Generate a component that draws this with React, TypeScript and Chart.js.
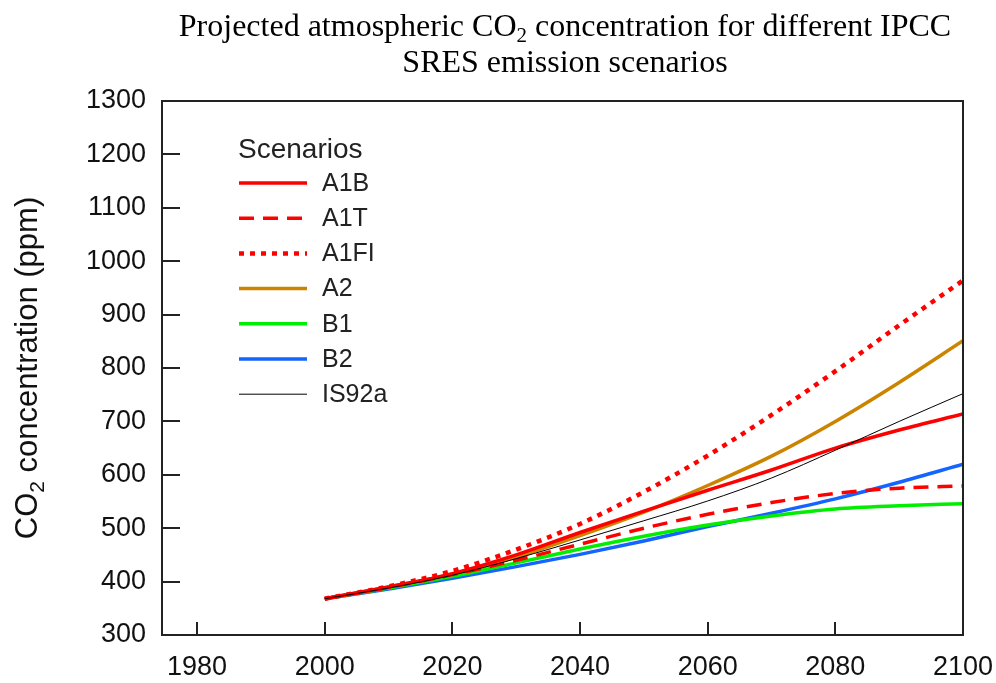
import React, { useEffect, useRef } from "react";
import { Chart, registerables } from "chart.js";

Chart.register(...registerables);

// ---- Data ----
const years = [2000, 2010, 2020, 2030, 2040, 2050, 2060, 2070, 2080, 2090, 2100];
const a1b = [368, 390, 415, 450, 492, 532, 571, 609, 650, 684, 714];
const a1t = [368, 389, 413, 440, 470, 500, 526, 548, 565, 575, 579];
const a1fi = [368, 391, 420, 460, 508, 568, 636, 712, 794, 880, 964];
const a2 = [368, 390, 414, 446, 486, 530, 580, 635, 700, 773, 851];
const b1 = [368, 388, 410, 435, 461, 485, 506, 523, 536, 542, 546];
const b2 = [368, 386, 406, 428, 451, 476, 503, 528, 555, 586, 620];
const is92a = [368, 388, 412, 443, 478, 514, 551, 594, 646, 700, 752];

const seriesNames = ["A1B", "A1T", "A1FI", "A2", "B1", "B2", "IS92a"];
const seriesValues = [a1b, a1t, a1fi, a2, b1, b2, is92a];
const seriesColors = ["#ff0000", "#ff0000", "#ff0000", "#cc8400", "#00ee00", "#1464ff", "#000000"];
const seriesWidths = [3.5, 3.5, 4.5, 3.5, 3.5, 3.5, 1];
const seriesDashes: number[][] = [[], [15, 9], [5, 6], [], [], [], []];

const xTicks = [1980, 2000, 2020, 2040, 2060, 2080, 2100];
const yTicks = [300, 400, 500, 600, 700, 800, 900, 1000, 1100, 1200, 1300];

const titleLine1a = "Projected atmospheric CO";
const titleLine1b = " concentration for different IPCC";
const titleLine2 = "SRES emission scenarios";
const yTitleA = "CO";
const yTitleB = " concentration (ppm)";
const legendTitle = "Scenarios";

const SANS = '"Liberation Sans", Arial, sans-serif';
const SERIF = '"Liberation Serif", "Times New Roman", serif';

const decorPlugin = {
  id: "decor",
  afterDraw(chart: any) {
    const ctx: CanvasRenderingContext2D = chart.ctx;
    const { left, top, right, bottom } = chart.chartArea;
    const xs = chart.scales.x;
    const ys = chart.scales.y;
    ctx.save();

    // frame
    ctx.strokeStyle = "#222";
    ctx.lineWidth = 2;
    ctx.setLineDash([]);
    ctx.strokeRect(left, top, right - left, bottom - top);

    // inward ticks
    ctx.lineWidth = 2;
    yTicks.forEach((v) => {
      if (v === yTicks[0] || v === yTicks[yTicks.length - 1]) return;
      const py = Math.round(ys.getPixelForValue(v));
      ctx.beginPath();
      ctx.moveTo(left, py);
      ctx.lineTo(left + 18, py);
      ctx.stroke();
    });
    xTicks.forEach((v) => {
      const px = Math.round(xs.getPixelForValue(v));
      if (px >= right - 1) return;
      ctx.beginPath();
      ctx.moveTo(px, bottom);
      ctx.lineTo(px, bottom - 13);
      ctx.stroke();
    });

    // title
    ctx.fillStyle = "#000";
    ctx.textBaseline = "alphabetic";
    ctx.textAlign = "left";
    const cx = 565;
    ctx.font = `32px ${SERIF}`;
    const w1 = ctx.measureText(titleLine1a).width;
    const w2 = ctx.measureText(titleLine1b).width;
    ctx.font = `21px ${SERIF}`;
    const ws = ctx.measureText("2").width;
    const sx = cx - (w1 + ws + w2) / 2;
    ctx.font = `32px ${SERIF}`;
    ctx.fillText(titleLine1a, sx, 36);
    ctx.font = `21px ${SERIF}`;
    ctx.fillText("2", sx + w1, 42);
    ctx.font = `32px ${SERIF}`;
    ctx.fillText(titleLine1b, sx + w1 + ws, 36);
    ctx.textAlign = "center";
    ctx.fillText(titleLine2, cx, 72);

    // y axis title
    ctx.save();
    ctx.translate(37, (top + bottom) / 2);
    ctx.rotate(-Math.PI / 2);
    ctx.fillStyle = "#111";
    ctx.textAlign = "left";
    ctx.font = `31px ${SANS}`;
    const ya = ctx.measureText(yTitleA).width;
    const yb = ctx.measureText(yTitleB).width;
    ctx.font = `21px ${SANS}`;
    const ysub = ctx.measureText("2").width;
    const ystart = -(ya + ysub + yb) / 2;
    ctx.font = `31px ${SANS}`;
    ctx.fillText(yTitleA, ystart, 0);
    ctx.font = `21px ${SANS}`;
    ctx.fillText("2", ystart + ya, 7);
    ctx.font = `31px ${SANS}`;
    ctx.fillText(yTitleB, ystart + ya + ysub, 0);
    ctx.restore();

    // legend
    ctx.fillStyle = "#222";
    ctx.textAlign = "left";
    ctx.textBaseline = "alphabetic";
    ctx.font = `28px ${SANS}`;
    ctx.fillText(legendTitle, 238, 158);
    ctx.font = `25px ${SANS}`;
    ctx.textBaseline = "middle";
    chart.data.datasets.forEach((ds: any, i: number) => {
      const ly = 183 + i * 35.2;
      ctx.strokeStyle = ds.borderColor;
      ctx.lineWidth = ds.borderWidth;
      ctx.setLineDash(ds.borderDash || []);
      ctx.lineCap = "butt";
      ctx.beginPath();
      ctx.moveTo(239, ly);
      ctx.lineTo(307, ly);
      ctx.stroke();
      ctx.setLineDash([]);
      ctx.fillStyle = "#222";
      ctx.fillText(ds.label, 322, ly + 1);
    });
    ctx.restore();
  },
};

export default function App() {
  const ref = useRef<HTMLCanvasElement | null>(null);
  useEffect(() => {
    if (!ref.current) return;
    const datasets = seriesNames.map((name, i) => ({
      label: name,
      data: years.map((yr, j) => ({ x: yr, y: seriesValues[i][j] })),
      borderColor: seriesColors[i],
      backgroundColor: seriesColors[i],
      borderWidth: seriesWidths[i],
      borderDash: seriesDashes[i],
      pointRadius: 0,
      fill: false,
      cubicInterpolationMode: "monotone" as const,
      order: name === "IS92a" ? 0 : i + 1,
    }));
    const chart = new Chart(ref.current, {
      type: "line",
      data: { datasets },
      options: {
        animation: false,
        responsive: false,
        devicePixelRatio: 1,
        layout: { padding: { top: 101, right: 33, left: 0, bottom: 0 } },
        plugins: { legend: { display: false }, title: { display: false }, tooltip: { enabled: false } },
        scales: {
          x: {
            type: "linear",
            min: 1974.5,
            max: 2100,
            grid: { display: false, drawTicks: false },
            border: { display: false },
            afterBuildTicks: (s: any) => {
              s.ticks = xTicks.map((v) => ({ value: v }));
            },
            afterFit: (s: any) => {
              s.height = 48;
              s.paddingLeft = 0;
              s.paddingRight = 0;
            },
            ticks: {
              autoSkip: false,
              maxRotation: 0,
              padding: 16,
              color: "#111",
              font: { family: SANS, size: 27 },
              callback: (v: any) => String(v),
            },
          },
          y: {
            type: "linear",
            min: 300,
            max: 1300,
            grid: { display: false, drawTicks: false },
            border: { display: false },
            afterBuildTicks: (s: any) => {
              s.ticks = yTicks.map((v) => ({ value: v }));
            },
            afterFit: (s: any) => {
              s.width = 162;
              s.paddingTop = 0;
              s.paddingBottom = 0;
            },
            ticks: {
              autoSkip: false,
              padding: 16,
              color: "#111",
              font: { family: SANS, size: 27 },
              callback: (v: any) => String(v),
            },
          },
        },
      },
      plugins: [decorPlugin],
    });
    return () => chart.destroy();
  }, []);
  return (
    <div style={{ position: "absolute", left: 0, top: 0, width: 996, height: 683, background: "#fff" }}>
      <canvas ref={ref} width={996} height={683} style={{ display: "block" }} />
    </div>
  );
}
